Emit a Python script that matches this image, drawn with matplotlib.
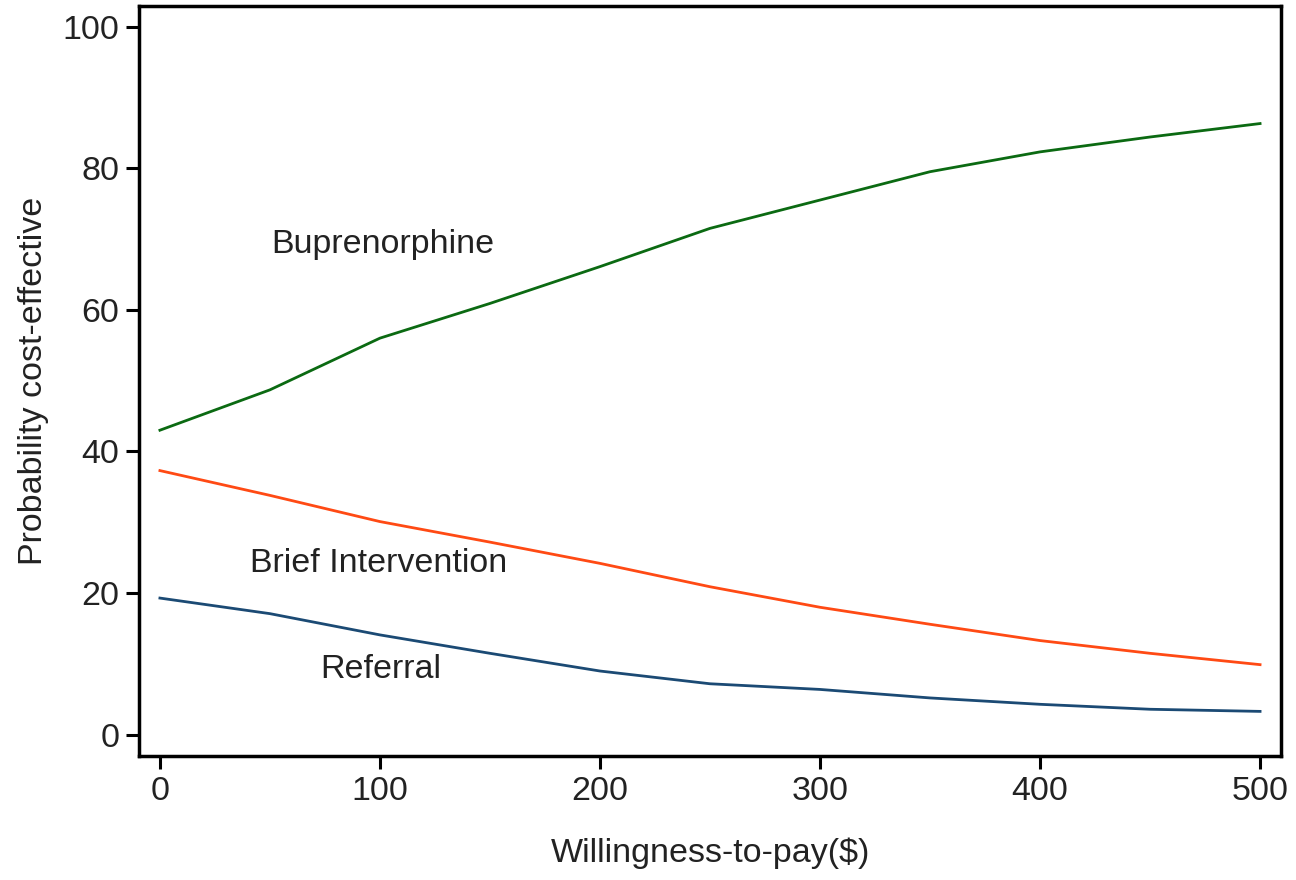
import matplotlib.pyplot as plt

plt.rcParams["font.family"] = ["Liberation Sans", "DejaVu Sans"]

# willingness-to-pay grid ($)
wtp = [0, 50, 100, 150, 200, 250, 300, 350, 400, 450, 500]

# probability cost-effective (%) for each strategy
buprenorphine = [43.0, 48.7, 56.0, 60.9, 66.1, 71.5, 75.5, 79.5, 82.3, 84.4, 86.3]
brief_intervention = [37.3, 33.8, 30.1, 27.2, 24.2, 20.9, 18.0, 15.6, 13.3, 11.5, 9.9]
referral = [19.3, 17.1, 14.1, 11.5, 9.0, 7.2, 6.4, 5.2, 4.3, 3.6, 3.3]

label_size = 24.5
text_color = "#222222"

fig = plt.figure(figsize=(12.96, 8.8), dpi=100)
ax = fig.add_axes([0.1076, 0.1409, 0.8808, 0.8523])

ax.plot(wtp, buprenorphine, color="#0b6a12", lw=2.0)
ax.plot(wtp, brief_intervention, color="#ff4a14", lw=2.0)
ax.plot(wtp, referral, color="#1b4a74", lw=2.0)

ax.text(50.5, 68.0, "Buprenorphine", fontsize=label_size, color=text_color,
        ha="left", va="baseline")
ax.text(41.1, 23.0, "Brief Intervention", fontsize=label_size, color=text_color,
        ha="left", va="baseline")
ax.text(73.0, 8.0, "Referral", fontsize=label_size, color=text_color,
        ha="left", va="baseline")

ax.set_xlim(-9.3, 509.5)
ax.set_ylim(-3.0, 102.9)
ax.set_xticks([0, 100, 200, 300, 400, 500])
ax.set_yticks([0, 20, 40, 60, 80, 100])

for side in ax.spines.values():
    side.set_linewidth(2.5)
ax.tick_params(direction="out", length=9.5, width=2.2, labelsize=label_size,
               labelcolor=text_color, pad=5)

ax.set_xlabel("Willingness-to-pay($)", fontsize=label_size, color=text_color,
              labelpad=22)
ax.set_ylabel("Probability cost-effective", fontsize=label_size,
              color=text_color, labelpad=10)

fig.savefig("out.png", dpi=100)
